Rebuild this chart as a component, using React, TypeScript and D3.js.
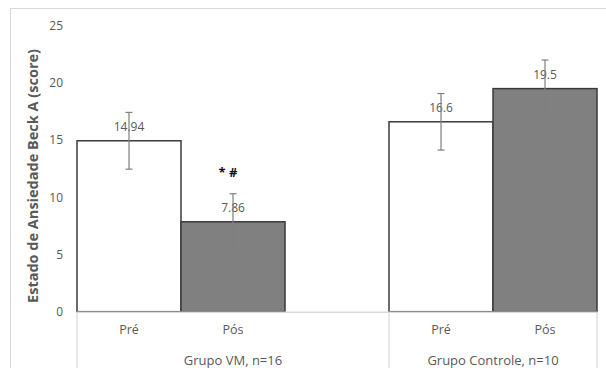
import React from "react";
import * as d3 from "d3";

const groups = ["Grupo VM, n=16", "Grupo Controle, n=10"];
const phases = ["Pré", "Pós"];
const means = [
  [14.94, 7.86],
  [16.6, 19.5],
];
const errors = [
  [2.48, 2.45],
  [2.47, 2.5],
];
const labels = [
  ["14.94", "7.86"],
  ["16.6", "19.5"],
];
const yTicks = [0, 5, 10, 15, 20, 25];
const yTitle = "Estado de Ansiedade Beck A (score)";
const marks = [["", "* #"], ["", ""]];

const W = 606;
const H = 368;
const font = "'Open Sans', 'Liberation Sans', sans-serif";

const App = () => {
  const marginLeft = 77;
  const marginRight = 9;
  const y0 = 311.7;
  const yTop = 25.7;

  // excel-ish layout: a blank category sits between the two groups
  const cats: string[] = [];
  groups.forEach((g, gi) => {
    phases.forEach((p) => cats.push(`${gi}|${p}`));
    if (gi < groups.length - 1) cats.push(`${gi}|gap`);
  });

  const x = d3.scaleBand().domain(cats).range([marginLeft, W - marginRight]).padding(0);
  const y = d3.scaleLinear().domain([0, 25]).range([y0, yTop]);
  const bw = x.bandwidth();

  const groupSpan = (gi: number) => {
    const start = x(`${gi}|${phases[0]}`)!;
    const end = gi < groups.length - 1 ? x(`${gi}|gap`)! + bw : x(`${gi}|${phases[phases.length - 1]}`)! + bw;
    return [gi === 0 ? marginLeft : start, end];
  };

  const sepX = [marginLeft, ...groups.map((_, gi) => groupSpan(gi)[1])];

  return (
    <svg width={W} height={H} style={{ position: "absolute", left: 0, top: 0 }} fontFamily={font}>
      <rect x={0} y={0} width={W} height={H} fill="#fff" />
      <rect x={10.5} y={8.5} width={W} height={H} fill="none" stroke="#d9d9d9" />

      {/* y ticks */}
      {yTicks.map((t) => (
        <text key={t} x={63} y={y(t)} dy="0.35em" textAnchor="end" fontSize={12} fill="#595959">
          {t}
        </text>
      ))}
      <text
        transform={`translate(33,176) rotate(-90)`}
        textAnchor="middle"
        dy="0.35em"
        fontSize={14.5}
        fontWeight="bold"
        fill="#595959"
      >
        {yTitle}
      </text>

      {/* bars */}
      {groups.map((g, gi) =>
        phases.map((p, pi) => {
          const bx = x(`${gi}|${p}`)!;
          const v = means[gi][pi];
          const cx = bx + bw / 2;
          const e = errors[gi][pi];
          return (
            <g key={`${gi}-${pi}`}>
              <rect
                x={bx}
                y={y(v)}
                width={bw}
                height={y0 - y(v)}
                fill={pi === 0 ? "#ffffff" : "#808080"}
                stroke="#3a3a3a"
                strokeWidth={1.5}
              />
              <text x={cx} y={y(v) - 14} dy="0.35em" textAnchor="middle" fontSize={12} fill="#595959">
                {labels[gi][pi]}
              </text>
              <g stroke="#7f7f7f" strokeWidth={1.2}>
                <line x1={cx} x2={cx} y1={y(v + e)} y2={y(v - e)} />
                <line x1={cx - 3.5} x2={cx + 3.5} y1={y(v + e)} y2={y(v + e)} />
                <line x1={cx - 3.5} x2={cx + 3.5} y1={y(v - e)} y2={y(v - e)} />
              </g>
              {marks[gi][pi] && (
                <text
                  x={cx - 5}
                  y={y(v + e) - 21}
                  dy="0.35em"
                  textAnchor="middle"
                  fontSize={13}
                  fontWeight="bold"
                  fill="#111"
                >
                  {marks[gi][pi]}
                </text>
              )}
              <text x={cx} y={330} dy="0.35em" textAnchor="middle" fontSize={12.5} fill="#595959">
                {p}
              </text>
            </g>
          );
        })
      )}

      {/* category axis */}
      <line x1={marginLeft} x2={W - marginRight} y1={y0 + 0.5} y2={y0 + 0.5} stroke="#d9d9d9" strokeWidth={1.5} />
      {sepX.map((sx, i) => (
        <line key={i} x1={sx} x2={sx} y1={y0} y2={H} stroke="#d9d9d9" strokeWidth={1.2} />
      ))}
      {groups.map((g, gi) => {
        const [a, b] = [gi === 0 ? marginLeft : x(`${gi}|${phases[0]}`)!, groupSpan(gi)[1]];
        return (
          <text key={g} x={(a + b) / 2} y={360} dy="0.35em" textAnchor="middle" fontSize={13} fill="#595959">
            {g}
          </text>
        );
      })}
    </svg>
  );
};

export default App;
